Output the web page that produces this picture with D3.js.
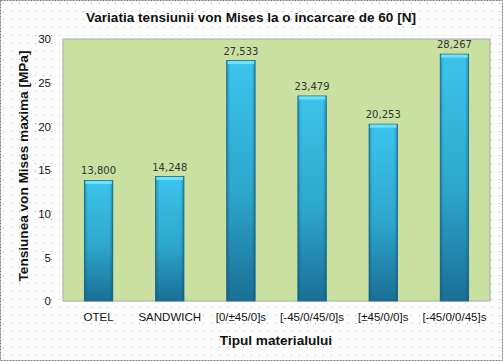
<html>
<head>
<script src="https://cdn.jsdelivr.net/npm/d3@7"></script>
<style>
    body { margin: 0; background: #fff; }
    svg { display: block; font-family: Arial, "Liberation Sans", sans-serif; }
    .tick text { font-size: 11.5px; fill: #111; }
    .val { font-size: 10px; fill: #333; text-anchor: middle; font-family: "DejaVu Sans", sans-serif; }
    .lbl { font-size: 13.6px; font-weight: bold; fill: #111; text-anchor: middle; }
</style>
</head>
<body>
<svg id="chart" width="503" height="361"></svg>
<script>

    var categories = ['OTEL', 'SANDWICH', '[0/\u00b145/0]s', '[-45/0/45/0]s', '[\u00b145/0/0]s', '[-45/0/0/45]s'];
    var values = [13.800, 14.248, 27.533, 23.479, 20.253, 28.267];
    var valueLabels = ['13,800', '14,248', '27,533', '23,479', '20,253', '28,267'];
    var yTicks = [0, 5, 10, 15, 20, 25, 30];

    var svg = d3.select('#chart');
    var W = +svg.attr('width'), H = +svg.attr('height');

    var plot = {left: 63, right: 490, top: 39, bottom: 301};

    var defs = svg.append('defs');

    // page background: white with grey dots
    var dots = defs.append('pattern')
        .attr('id', 'dots').attr('width', 8).attr('height', 8)
        .attr('patternUnits', 'userSpaceOnUse');
    dots.append('rect').attr('width', 8).attr('height', 8).attr('fill', '#fff');
    dots.append('rect').attr('x', 3).attr('y', 3).attr('width', 1).attr('height', 1).attr('fill', '#aaa');

    var grad = defs.append('linearGradient')
        .attr('id', 'barGrad').attr('x1', 0).attr('y1', 0).attr('x2', 0).attr('y2', 1);
    grad.append('stop').attr('offset', '0%').attr('stop-color', '#3cc4ec');
    grad.append('stop').attr('offset', '55%').attr('stop-color', '#2ea6cc');
    grad.append('stop').attr('offset', '100%').attr('stop-color', '#1a6f96');

    var side = defs.append('linearGradient')
        .attr('id', 'sideGrad').attr('x1', 0).attr('y1', 0).attr('x2', 1).attr('y2', 0);
    side.append('stop').attr('offset', '0%').attr('stop-color', '#0a4a70').attr('stop-opacity', 0.45);
    side.append('stop').attr('offset', '12%').attr('stop-color', '#0a4a70').attr('stop-opacity', 0);
    side.append('stop').attr('offset', '88%').attr('stop-color', '#0a4a70').attr('stop-opacity', 0);
    side.append('stop').attr('offset', '100%').attr('stop-color', '#0a4a70').attr('stop-opacity', 0.45);

    svg.append('rect')
        .attr('x', 0.5).attr('y', 0.5).attr('width', W - 1).attr('height', H - 1)
        .attr('fill', 'url(#dots)')
        .attr('stroke', '#777').attr('stroke-dasharray', '2,1');

    var x = d3.scaleBand()
        .domain(categories)
        .range([plot.left, plot.right])
        .paddingInner(0.6).paddingOuter(0.3);

    var y = d3.scaleLinear()
        .domain([0, 30])
        .range([plot.bottom, plot.top]);

    // plot area
    svg.append('rect')
        .attr('x', plot.left).attr('y', plot.top)
        .attr('width', plot.right - plot.left).attr('height', plot.bottom - plot.top)
        .attr('fill', '#c9e0a0')
        .attr('stroke', '#a8a8a8');

    var yAxis = svg.append('g')
        .attr('transform', 'translate(' + plot.left + ',0)')
        .call(d3.axisLeft(y).tickValues(yTicks).tickSize(0).tickPadding(12));
    yAxis.select('.domain').remove();

    var xAxis = svg.append('g')
        .attr('transform', 'translate(0,' + plot.bottom + ')')
        .call(d3.axisBottom(x).tickSize(0).tickPadding(12));
    xAxis.select('.domain').remove();

    var bars = svg.selectAll('.bar')
        .data(values)
      .enter()
        .append('g')
        .attr('class', 'bar');

    bars.append('rect')
        .attr('x', function(d, i) { return x(categories[i]); })
        .attr('y', function(d) { return y(d); })
        .attr('width', x.bandwidth())
        .attr('height', function(d) { return y(0) - y(d); })
        .attr('fill', 'url(#barGrad)')
        .attr('stroke', '#1b6a8e').attr('stroke-width', 0.8);

    bars.append('rect')
        .attr('x', function(d, i) { return x(categories[i]); })
        .attr('y', function(d) { return y(d); })
        .attr('width', x.bandwidth())
        .attr('height', function(d) { return y(0) - y(d); })
        .attr('fill', 'url(#sideGrad)');

    // bevel on top
    bars.append('rect')
        .attr('x', function(d, i) { return x(categories[i]) + 1; })
        .attr('y', function(d) { return y(d) + 0.5; })
        .attr('width', x.bandwidth() - 2)
        .attr('height', 3)
        .attr('fill', '#6ee2fa');

    bars.append('text')
        .attr('class', 'val')
        .attr('x', function(d, i) { return x(categories[i]) + x.bandwidth() / 2; })
        .attr('y', function(d) { return y(d) - 6; })
        .text(function(d, i) { return valueLabels[i]; });

    svg.append('text')
        .attr('class', 'lbl')
        .attr('x', 251).attr('y', 22)
        .text('Variatia tensiunii  von Mises la o incarcare de 60 [N]');

    svg.append('text')
        .attr('class', 'lbl')
        .attr('transform', 'translate(28,' + ((plot.top + plot.bottom) / 2 - 4) + ') rotate(-90)')
        .text('Tensiunea von Mises maxima [MPa]');

    svg.append('text')
        .attr('class', 'lbl')
        .attr('x', 276).attr('y', 345)
        .text('Tipul materialului');

</script>
</body>
</html>
